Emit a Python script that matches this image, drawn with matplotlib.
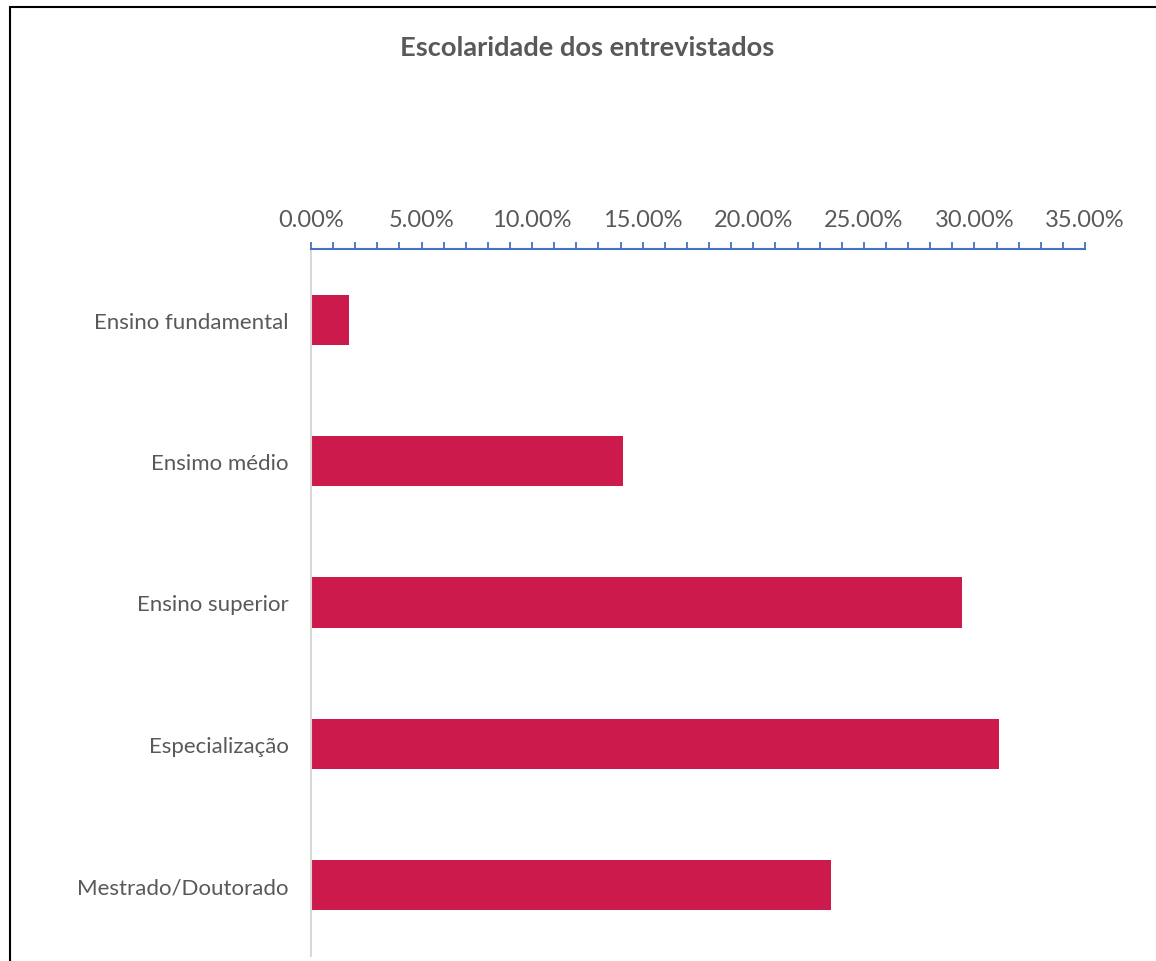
import matplotlib.pyplot as plt
from matplotlib.patches import Rectangle
from matplotlib.ticker import MultipleLocator, FuncFormatter

categorias = ["Ensino fundamental", "Ensimo médio", "Ensino superior",
              "Especialização", "Mestrado/Doutorado"]
valores = [1.72, 14.11, 29.44, 31.12, 23.52]

plt.rcParams['font.family'] = ['Lato', 'DejaVu Sans']
cinza = "#595959"

fig = plt.figure(figsize=(11.56, 9.62), dpi=100)
ax = fig.add_axes([311 / 1156, 1 - 957 / 962, 774 / 1156, 707 / 962])

pos = list(range(len(categorias)))
ax.barh(pos, valores, height=0.355, color="#CB1A4B")
ax.set_ylim(len(categorias) - 0.5, -0.5)
ax.set_xlim(0, 35)
ax.set_yticks(pos)
ax.set_yticklabels(categorias, fontsize=16, color=cinza)

ax.xaxis.tick_top()
ax.xaxis.set_major_locator(MultipleLocator(5))
ax.xaxis.set_minor_locator(MultipleLocator(1))
ax.xaxis.set_major_formatter(FuncFormatter(lambda v, p: f"{v:.2f}%"))
ax.tick_params(axis="x", which="both", direction="out", length=5, width=1.3,
               color="#4472C4", labelsize=17, labelcolor=cinza, pad=9)
ax.tick_params(axis="y", length=0, pad=16)

for lado in ["right", "bottom"]:
    ax.spines[lado].set_visible(False)
ax.spines["top"].set_color("#4472C4")
ax.spines["top"].set_linewidth(1.5)
ax.spines["left"].set_color("#D9D9D9")
ax.spines["left"].set_linewidth(1.5)

fig.text(587 / 1156, 1 - 48 / 962, "Escolaridade dos entrevistados",
         ha="center", va="center", fontsize=19.6, fontweight="bold", color=cinza)

fig.patches.append(Rectangle((9.5 / 1156, -0.1), 1.2, 1 - 7.5 / 962 + 0.1,
                             transform=fig.transFigure, fill=False,
                             edgecolor="black", linewidth=1.5))

fig.savefig("out.png", dpi=100)
